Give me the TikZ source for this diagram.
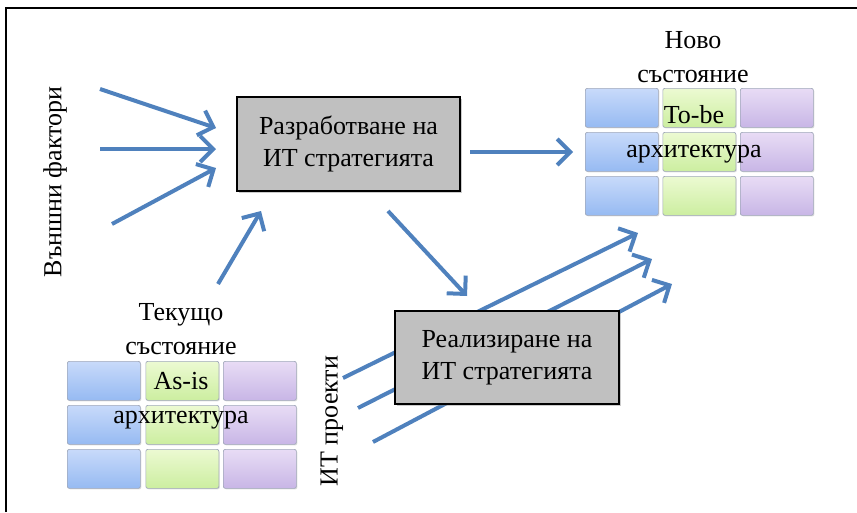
\documentclass[tikz,border=0pt]{standalone}
\usepackage{fontspec}
\setmainfont{Liberation Serif}
\usetikzlibrary{arrows.meta,shadows}
\definecolor{arrowblue}{RGB}{79,129,189}
\definecolor{boxgray}{RGB}{192,192,192}
\definecolor{bluetop}{RGB}{200,218,250}
\definecolor{bluebot}{RGB}{150,186,242}
\definecolor{greentop}{RGB}{236,250,210}
\definecolor{greenbot}{RGB}{204,238,160}
\definecolor{purptop}{RGB}{232,220,245}
\definecolor{purpbot}{RGB}{200,182,230}
\definecolor{cellline}{RGB}{160,168,185}
\tikzset{
  procbox/.style={draw=black, line width=1.3pt, fill=boxgray, align=center,
    font=\fontsize{26}{32}\selectfont,
    drop shadow={shadow xshift=2pt, shadow yshift=-2pt, opacity=0.4}},
  cell/.style={draw=cellline, line width=0.7pt, rounded corners=2pt,
    minimum width=73pt, minimum height=39pt, anchor=north west, inner sep=0pt,
    drop shadow={shadow xshift=1pt, shadow yshift=-1pt, opacity=0.25}},
  cellA/.style={cell, top color=bluetop, bottom color=bluebot},
  cellB/.style={cell, top color=greentop, bottom color=greenbot},
  cellC/.style={cell, top color=purptop, bottom color=purpbot},
  lbl/.style={align=center, font=\fontsize{26}{34}\selectfont, inner sep=0pt},
  flow/.style={draw=arrowblue, line width=4pt,
    -{Straight Barb[length=13pt,width=26pt,line width=4pt]}}
}
\begin{document}
\begin{tikzpicture}[x=1pt,y=-1pt]
\useasboundingbox (0,0) rectangle (857,512);
% frame
\draw[line width=2pt] (6,512) -- (6,8) -- (857,8);

% To-be grid
\foreach \r/\y in {1/88,2/132,3/176}{
  \node[cellA] (tb-\r-1) at (585,\y) {};
  \node[cellB] (tb-\r-2) at (662.5,\y) {};
  \node[cellC] (tb-\r-3) at (740,\y) {};
}
% As-is grid
\foreach \r/\y in {1/361,2/405,3/449}{
  \node[cellA] (ai-\r-1) at (67,\y) {};
  \node[cellB] (ai-\r-2) at (145.5,\y) {};
  \node[cellC] (ai-\r-3) at (223,\y) {};
}

% labels
\node[lbl] (newstate) at (693,57) {Ново\\състояние};
\node[lbl] (tobe) at (694,134) {To-be\\архитектура};
\node[lbl] (curstate) at (181,329) {Текущо\\състояние};
\node[lbl] (asis) at (181,401) {As-is\\архитектура};
\node[lbl, rotate=90] (ext) at (55,182) {Външни фактори};
\node[lbl, rotate=90] (proj) at (332,421) {ИТ проекти};

% main boxes
\node[procbox, minimum width=223pt, minimum height=94pt] (dev) at (348.5,144) {Разработване на\\ИТ стратегията};

% coordinates for arrows
\coordinate (e1s) at (100,89);  \coordinate (e1t) at (216,128);
\coordinate (e2s) at (100,149); \coordinate (e2t) at (216,149);
\coordinate (e3s) at (112,224); \coordinate (e3t) at (216,168);
\coordinate (cs) at (218,284);  \coordinate (ct) at (261,211);
\coordinate (rs) at (470,152);  \coordinate (rt) at (573,152);
\coordinate (ds) at (388,211);  \coordinate (dt) at (467,296);
\coordinate (p1s) at (343,378); \coordinate (p1t) at (638,233);
\coordinate (p2s) at (358,408); \coordinate (p2t) at (652,259);
\coordinate (p3s) at (373,442); \coordinate (p3t) at (672,284);

\draw[flow] (e1s) -- (e1t);
\draw[flow] (e2s) -- (e2t);
\draw[flow] (e3s) -- (e3t);
\draw[flow] (cs) -- (ct);
\draw[flow] (rs) -- (rt);
\draw[flow] (ds) -- (dt);
\draw[flow] (p1s) -- (p1t);
\draw[flow] (p2s) -- (p2t);
\draw[flow] (p3s) -- (p3t);

\node[procbox, minimum width=224pt, minimum height=93pt] (impl) at (507,357.5) {Реализиране на\\ИТ стратегията};
\end{tikzpicture}
\end{document}
